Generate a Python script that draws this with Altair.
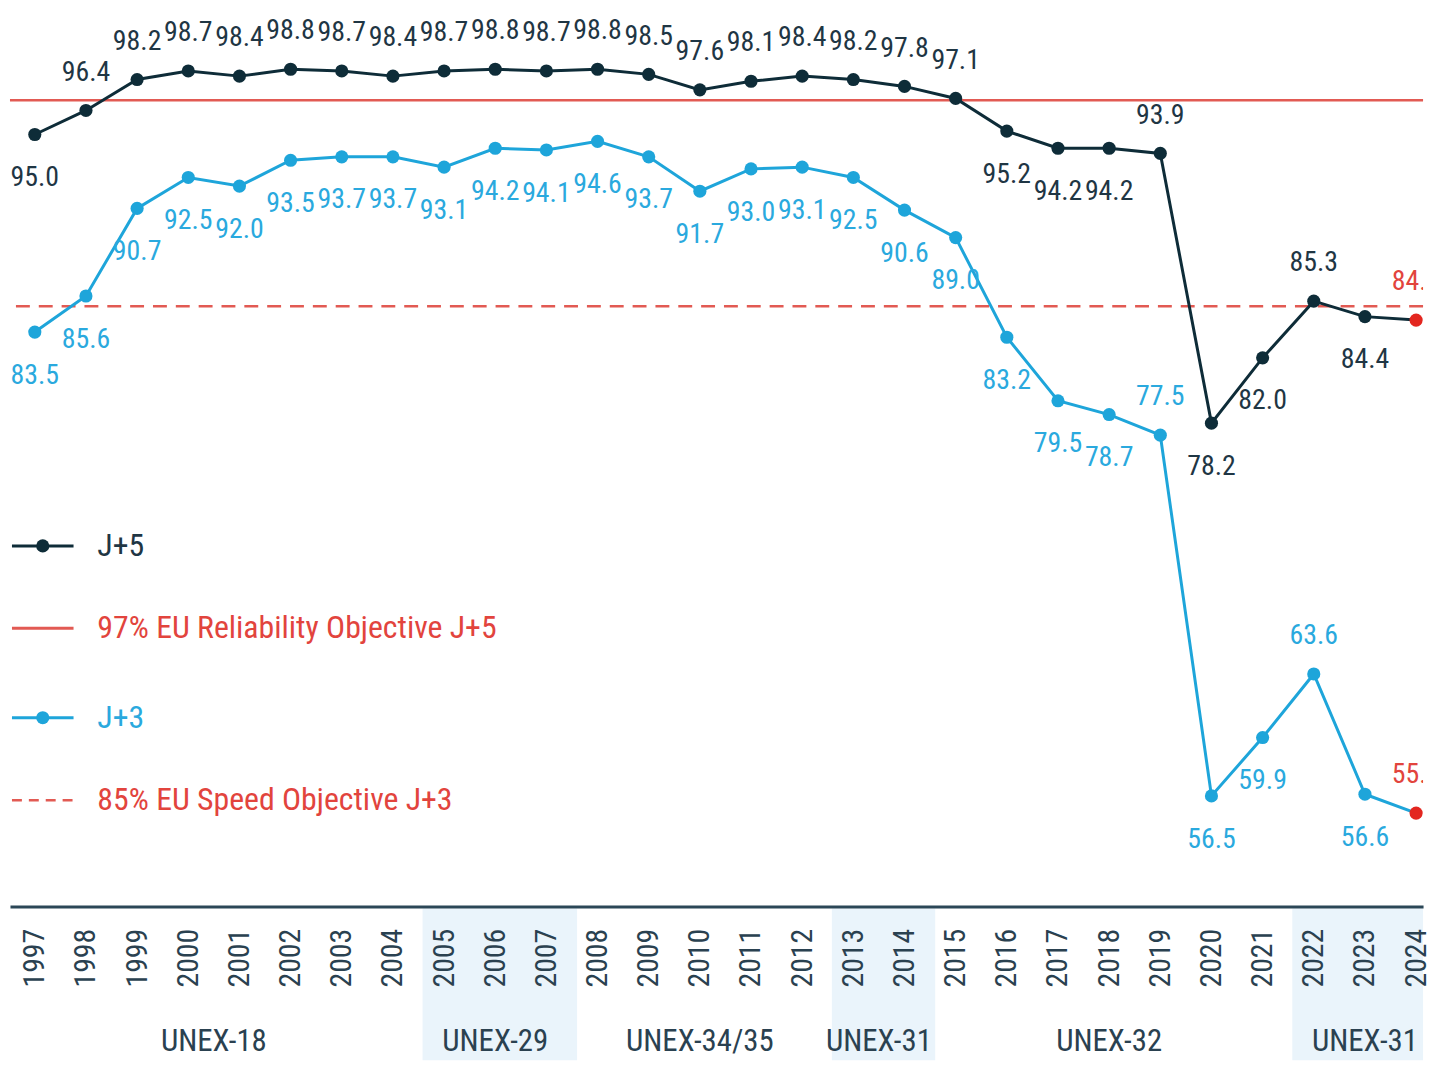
import altair as alt
import pandas as pd

# ---------------- data ----------------
years = list(range(1997, 2025))
j5_values = [95.0, 96.4, 98.2, 98.7, 98.4, 98.8, 98.7, 98.4, 98.7, 98.8, 98.7, 98.8, 98.5, 97.6,
             98.1, 98.4, 98.2, 97.8, 97.1, 95.2, 94.2, 94.2, 93.9, 78.2, 82.0, 85.3, 84.4, 84.2]
j3_values = [83.5, 85.6, 90.7, 92.5, 92.0, 93.5, 93.7, 93.7, 93.1, 94.2, 94.1, 94.6, 93.7, 91.7,
             93.0, 93.1, 92.5, 90.6, 89.0, 83.2, 79.5, 78.7, 77.5, 56.5, 59.9, 63.6, 56.6, 55.5]
j5_labels_below = [1997, 2016, 2017, 2018, 2020, 2021, 2023]
j3_labels_above = [2019, 2022, 2024]

target_values = [97, 85]
target_names = ["97% EU Reliability Objective J+5", "85% EU Speed Objective J+3"]

period_names = ["UNEX-18", "UNEX-29", "UNEX-34/35", "UNEX-31", "UNEX-32", "UNEX-31"]
period_start = [1997, 2005, 2008, 2013, 2015, 2022]
period_end = [2004, 2007, 2012, 2014, 2021, 2024]
period_shaded = [False, True, False, True, False, True]

# ---------------- style ----------------
FONT = ("Roboto Condensed, Noto Sans Condensed, Noto Sans ExtraCondensed, "
        "Liberation Sans Narrow, DejaVu Sans Condensed, Liberation Sans, sans-serif")
DARK = "#0e2c38"
DARK_TXT = "#1f3644"
BLUE = "#1ea5da"
BLUE_TXT = "#2aa9de"
RED_TXT = "#e2443d"
RED_LINE = "#e25a53"
LATEST = "#e3261f"
BAND = "#eaf4fb"
AXIS_C = "#2b4757"
W, H = 1423, 901

rows = []
for i, yr in enumerate(years):
    rows.append(dict(year=yr, value=j5_values[i], series="J+5",
                     pos="below" if yr in j5_labels_below else "above"))
    rows.append(dict(year=yr, value=j3_values[i], series="J+3",
                     pos="above" if yr in j3_labels_above else "below"))
df = pd.DataFrame(rows)
df["marker"] = df["series"].where(df["year"] != years[-1], "latest")

periods = pd.DataFrame({"name": period_names, "start": period_start, "end": period_end,
                        "shaded": period_shaded})
periods["x0"] = periods["start"] - 0.42
periods["x1"] = periods["end"] + 0.6
periods["mid"] = (periods["start"] + periods["end"]) / 2

targets = pd.DataFrame({"target": target_values, "name": target_names})

xscale = alt.Scale(domain=[1996.515, 2024.136], nice=False, zero=False, clamp=True)
xaxis = alt.Axis(values=years, format="d", title=None, ticks=False, grid=False,
                 domainColor=AXIS_C, domainWidth=3, labelAngle=270, labelFont=FONT,
                 labelFontSize=30, labelColor="#2a4150", labelPadding=22,
                 labelOverlap=False, labelFlush=False, zindex=1)
yscale = alt.Scale(domain=[50.07, 102.15], nice=False, zero=False)

X = alt.X("year:Q", scale=xscale, axis=xaxis)
Y = alt.Y("value:Q", scale=yscale, axis=None)

# bands and group labels under the axis
bands = alt.Chart(periods).transform_filter(alt.datum.shaded).mark_rect(color=BAND).encode(
    x=alt.X("x0:Q", scale=xscale, axis=xaxis), x2="x1:Q",
    y=alt.value(H + 2), y2=alt.value(1056))
group_labels = alt.Chart(periods).mark_text(font=FONT, fontSize=31, color="#2a4150",
                                            baseline="middle").encode(
    x=alt.X("mid:Q", scale=xscale, axis=xaxis), y=alt.value(1038), text="name:N")

# target rules
rule_rel = alt.Chart(targets).transform_filter(alt.datum.target == target_values[0]).mark_rule(
    color=RED_LINE, strokeWidth=2.5).encode(y=alt.Y("target:Q", scale=yscale, axis=None))
rule_speed = alt.Chart(targets).transform_filter(alt.datum.target == target_values[1]).mark_rule(
    color=RED_LINE, strokeWidth=2.5, strokeDash=[14, 9]).encode(
    y=alt.Y("target:Q", scale=yscale, axis=None))

base = alt.Chart(df)
lines = base.mark_line(strokeWidth=3).encode(
    x=X, y=Y,
    color=alt.Color("series:N", scale=alt.Scale(domain=["J+5", "J+3"], range=[DARK, BLUE]),
                    legend=None))
points = base.mark_circle(size=175, opacity=1).encode(
    x=X, y=Y,
    color=alt.Color("marker:N", scale=alt.Scale(domain=["J+5", "J+3", "latest"],
                                                range=[DARK, BLUE, LATEST]), legend=None))
txt_color = alt.Color("marker:N", scale=alt.Scale(domain=["J+5", "J+3", "latest"],
                                                  range=[DARK_TXT, BLUE_TXT, RED_TXT]),
                      legend=None)
labels_above = base.transform_filter(alt.datum.pos == "above").mark_text(
    font=FONT, fontSize=28, dy=-38, baseline="middle", clip=True).encode(
    x=X, y=Y, text=alt.Text("value:Q", format=".1f"), color=txt_color)
labels_below = base.transform_filter(alt.datum.pos == "below").mark_text(
    font=FONT, fontSize=28, dy=44, baseline="middle", clip=True).encode(
    x=X, y=Y, text=alt.Text("value:Q", format=".1f"), color=txt_color)


def legend_row(label, line_color, text_color, ypix, dash=None, dot=False):
    d = alt.Chart(pd.DataFrame({"label": [label]}))
    rule_kw = dict(color=line_color, strokeWidth=3)
    if dash:
        rule_kw["strokeDash"] = dash
        rule_kw["strokeWidth"] = 2.5
    parts = [d.mark_rule(**rule_kw).encode(x=alt.value(2), x2=alt.value(64), y=alt.value(ypix))]
    if dot:
        parts.append(d.mark_circle(size=175, opacity=1, color=line_color).encode(
            x=alt.value(33), y=alt.value(ypix)))
    parts.append(d.mark_text(font=FONT, fontSize=32, align="left", baseline="middle",
                             color=text_color).encode(
        x=alt.value(88), y=alt.value(ypix), text="label:N"))
    return parts


legend_layers = []
legend_layers += legend_row("J+5", DARK, DARK_TXT, 538, dot=True)
legend_layers += legend_row(target_names[0], RED_LINE, RED_TXT, 621)
legend_layers += legend_row("J+3", BLUE, BLUE_TXT, 711, dot=True)
legend_layers += legend_row(target_names[1], RED_LINE, RED_TXT, 794, dash=[10, 7])

chart = alt.layer(
    bands, group_labels, rule_rel, rule_speed, lines, points, labels_above, labels_below,
    *legend_layers
).resolve_scale(color="independent").properties(
    width=W, height=H, padding=0, background="white"
).configure_view(stroke=None)

chart.save("out.html", embed_options={"renderer": "svg", "actions": False})
